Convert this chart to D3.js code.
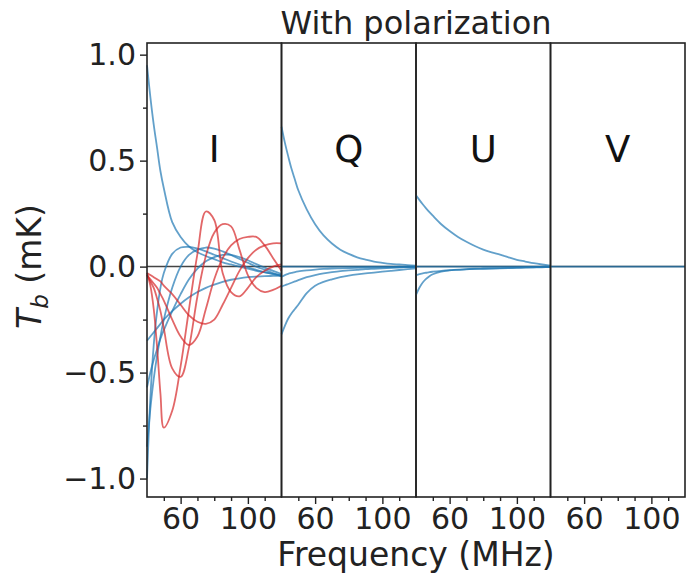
<!DOCTYPE html>
<meta charset="utf-8">
<style>
body { margin: 0; background: #fff; }
svg { font-family: "DejaVu Sans", sans-serif; }
.tick text { font-size: 30px; fill: #222; }
.tick line { stroke: #222; stroke-width: 1.4; }
.frame { fill: none; stroke: #222; stroke-width: 1.6; }
.curve { fill: none; stroke-width: 1.8; stroke-opacity: 0.7; }
</style>
<body>
<script src="https://cdnjs.cloudflare.com/ajax/libs/d3/7.8.5/d3.min.js"></script>
<script>

// frequency samples shared by every curve (MHz)
var freqs = [40, 42, 44, 46, 48, 50, 55, 60, 65, 70, 75, 80, 85, 90, 95, 100, 105, 110, 115, 120];

var panels = ["I", "Q", "U", "V"];

// Stokes I: foreground modes (blue)
var iBlue = [
  [0.95, 0.8, 0.67, 0.56, 0.45, 0.37, 0.21, 0.14, 0.095, 0.068, 0.05, 0.035, 0.02, 0.01, 0.0, -0.01, -0.02, -0.027, -0.034, -0.04],
  [-1.0, -0.62, -0.37, -0.21, -0.1, -0.03, 0.06, 0.09, 0.093, 0.085, 0.072, 0.056, 0.04, 0.024, 0.01, -0.003, -0.015, -0.026, -0.036, -0.045],
  [-0.85, -0.67, -0.53, -0.42, -0.33, -0.25, -0.1, 0.0, 0.055, 0.08, 0.09, 0.085, 0.072, 0.055, 0.036, 0.018, 0.0, -0.015, -0.03, -0.045],
  [-0.57, -0.5, -0.44, -0.39, -0.34, -0.3, -0.21, -0.13, -0.06, -0.01, 0.025, 0.045, 0.055, 0.055, 0.045, 0.03, 0.012, -0.005, -0.02, -0.035],
  [-0.35, -0.33, -0.31, -0.29, -0.27, -0.25, -0.21, -0.175, -0.145, -0.12, -0.1, -0.085, -0.072, -0.062, -0.055, -0.05, -0.047, -0.045, -0.044, -0.043]
];

// Stokes I: signal modes (red)
var iRed = [
  [-0.03, -0.09, -0.2, -0.38, -0.6, -0.76, -0.68, -0.47, -0.2, 0.06, 0.26, 0.22, -0.03, -0.12, -0.14, -0.1, -0.05, -0.02, 0.0, 0.01],
  [-0.04, -0.07, -0.1, -0.15, -0.21, -0.29, -0.48, -0.52, -0.38, -0.14, 0.05, 0.16, 0.2, 0.19, 0.08, -0.04, -0.1, -0.12, -0.11, -0.09],
  [-0.04, -0.06, -0.08, -0.1, -0.13, -0.16, -0.25, -0.33, -0.37, -0.33, -0.2, -0.06, 0.04, 0.1, 0.13, 0.14, 0.14, 0.1, 0.04, -0.02],
  [-0.03, -0.04, -0.05, -0.06, -0.07, -0.09, -0.13, -0.18, -0.23, -0.26, -0.27, -0.25, -0.18, -0.1, -0.02, 0.04, 0.08, 0.1, 0.11, 0.11]
];

var qBlue = [
  [0.66, 0.585, 0.52, 0.46, 0.41, 0.36, 0.27, 0.2, 0.147, 0.109, 0.08, 0.06, 0.044, 0.033, 0.024, 0.018, 0.013, 0.01, 0.007, 0.005],
  [-0.32, -0.28, -0.245, -0.22, -0.2, -0.18, -0.125, -0.09, -0.072, -0.06, -0.05, -0.043, -0.037, -0.032, -0.028, -0.024, -0.02, -0.016, -0.012, -0.008],
  [-0.095, -0.088, -0.082, -0.076, -0.07, -0.064, -0.05, -0.04, -0.032, -0.026, -0.021, -0.018, -0.015, -0.012, -0.01, -0.008, -0.006, -0.004, -0.002, -0.001],
  [-0.048, -0.04, -0.034, -0.03, -0.026, -0.023, -0.018, -0.014, -0.011, -0.009, -0.008, -0.007, -0.006, -0.005, -0.004, -0.004, -0.003, -0.003, -0.002, -0.002],
  [0, 0, 0, 0, 0, 0, 0, 0, 0, 0, 0, 0, 0, 0, 0, 0, 0, 0, 0, 0]
];

var uBlue = [
  [0.337, 0.315, 0.294, 0.275, 0.257, 0.24, 0.2, 0.168, 0.14, 0.117, 0.097, 0.08, 0.067, 0.056, 0.044, 0.032, 0.024, 0.016, 0.01, 0.005],
  [-0.134, -0.1, -0.075, -0.058, -0.045, -0.036, -0.024, -0.018, -0.014, -0.012, -0.01, -0.009, -0.008, -0.007, -0.006, -0.005, -0.004, -0.003, -0.002, -0.002],
  [-0.04, -0.036, -0.032, -0.029, -0.026, -0.024, -0.02, -0.017, -0.015, -0.013, -0.011, -0.01, -0.009, -0.008, -0.007, -0.006, -0.005, -0.004, -0.003, -0.002],
  [0, 0, 0, 0, 0, 0, 0, 0, 0, 0, 0, 0, 0, 0, 0, 0, 0, 0, 0, 0]
];

var vBlue = [
  [0, 0, 0, 0, 0, 0, 0, 0, 0, 0, 0, 0, 0, 0, 0, 0, 0, 0, 0, 0]
];

var yMajor = [-1, -0.5, 0, 0.5, 1];
var yMinor = [-0.75, -0.25, 0.25, 0.75];
var xMajor = [60, 100];
var xMinor = [50, 70, 80, 90, 110];

var blueSets = [iBlue, qBlue, uBlue, vBlue];
var redSets = [iRed, [], [], []];

var W = 687, H = 574;
var margin = {top: 43, left: 147, right: 2, bottom: 77};
var pw = (W - margin.left - margin.right) / panels.length,
    height = H - margin.top - margin.bottom;

var svg = d3.select("body").append("svg")
    .attr("width", W)
    .attr("height", H);

var g = svg.append("g")
    .attr("transform", "translate(" + margin.left + "," + margin.top + ")");

var y = d3.scaleLinear().domain([-1.087, 1.055]).range([height, 0]);

panels.forEach(function(name, p) {
  var x = d3.scaleLinear().domain([40, 120]).range([p * pw, (p + 1) * pw]);

  var line = d3.line()
      .x(function(d, i) { return x(freqs[i]); })
      .y(function(d) { return y(d); })
      .curve(d3.curveCatmullRom.alpha(0.5));

  var pg = g.append("g");

  // zero line
  pg.append("line")
      .attr("x1", x(40)).attr("x2", x(120))
      .attr("y1", y(0)).attr("y2", y(0))
      .style("stroke", "#444")
      .style("stroke-width", 1.5);

  pg.selectAll(".blue")
      .data(blueSets[p])
    .enter().append("path")
      .attr("class", "curve blue")
      .attr("d", line)
      .style("stroke", "#1f77b4");

  pg.selectAll(".red")
      .data(redSets[p])
    .enter().append("path")
      .attr("class", "curve red")
      .attr("d", line)
      .style("stroke", "#d62728");

  pg.append("text")
      .attr("x", x(80))
      .attr("y", y(0.5) + 1)
      .attr("text-anchor", "middle")
      .style("font-size", "37px")
      .style("fill", "#111")
      .text(name);

  // x axis, major and minor ticks
  pg.append("g")
      .attr("transform", "translate(0," + height + ")")
      .call(d3.axisBottom(x).tickValues(xMajor).tickSize(7).tickPadding(4).tickFormat(d3.format("d")))
      .call(function(a) { a.select(".domain").remove(); });
  pg.append("g")
      .attr("transform", "translate(0," + height + ")")
      .call(d3.axisBottom(x).tickValues(xMinor).tickSize(4).tickFormat(""))
      .call(function(a) { a.select(".domain").remove(); });

  pg.append("rect")
      .attr("class", "frame")
      .attr("x", x(40)).attr("y", 0)
      .attr("width", pw).attr("height", height);
});

// y axis
g.append("g")
    .call(d3.axisLeft(y).tickValues(yMajor).tickSize(7).tickPadding(4).tickFormat(d3.format(".1f")))
    .call(function(a) { a.select(".domain").remove(); });
g.append("g")
    .call(d3.axisLeft(y).tickValues(yMinor).tickSize(4).tickFormat(""))
    .call(function(a) { a.select(".domain").remove(); });

g.selectAll(".tick text").style("font-family", "DejaVu Sans");

// titles
svg.append("text")
    .attr("x", margin.left + 2 * pw)
    .attr("y", 34)
    .attr("text-anchor", "middle")
    .style("font-size", "32px")
    .style("fill", "#222")
    .text("With polarization");

svg.append("text")
    .attr("x", margin.left + 2 * pw)
    .attr("y", 566)
    .attr("text-anchor", "middle")
    .style("font-size", "33px")
    .style("fill", "#222")
    .text("Frequency (MHz)");

var ylab = svg.append("text")
    .attr("transform", "translate(41," + (margin.top + y(0)) + ") rotate(-90)")
    .attr("text-anchor", "middle")
    .style("font-size", "33px")
    .style("fill", "#222");
ylab.append("tspan").style("font-style", "italic").text("T");
ylab.append("tspan").style("font-style", "italic").style("font-size", "23px").attr("dy", 7).text("b");
ylab.append("tspan").attr("dy", -7).text(" (mK)");

</script>
</body>
